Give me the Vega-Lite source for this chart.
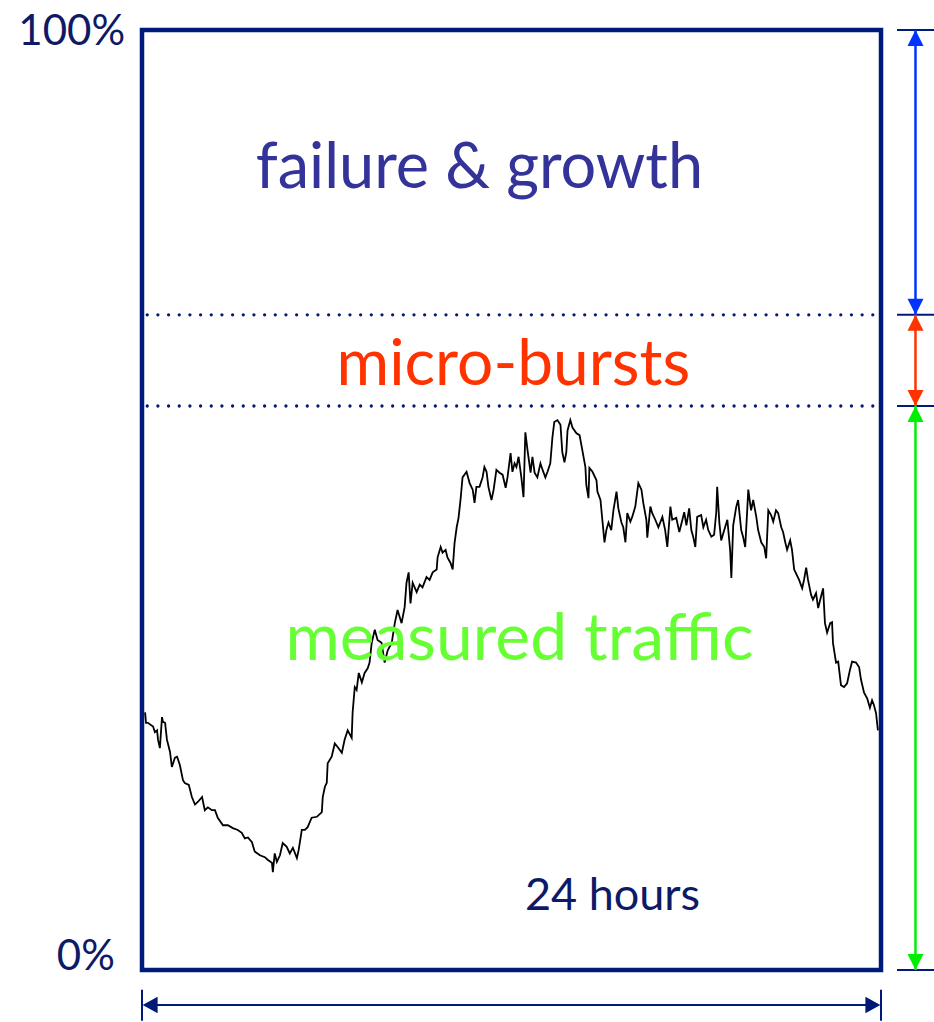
{
  "$schema": "https://vega.github.io/schema/vega-lite/v6.json",
  "width": 739,
  "height": 940,
  "autosize": "none",
  "padding": {"left": 142, "top": 30, "right": 53, "bottom": 52},
  "background": "white",
  "config": {"view": {"stroke": "#001a7a", "strokeWidth": 4.5}, "text": {"font": "Lato"}},
  "datasets": {
    "traffic": [
      {"h":0.10,"p":27.4},{"h":0.13,"p":26.3},{"h":0.19,"p":26.3},{"h":0.36,"p":25.9},{"h":0.42,"p":25.3},{"h":0.49,"p":25.5},{"h":0.52,"p":24.5},{"h":0.58,"p":23.6},{"h":0.65,"p":26.9},{"h":0.68,"p":26.4},{"h":0.75,"p":26.3},{"h":0.81,"p":24.5},{"h":0.91,"p":23.2},{"h":0.97,"p":21.6},{"h":1.07,"p":22.6},{"h":1.14,"p":22.7},{"h":1.23,"p":21.8},{"h":1.33,"p":20.2},{"h":1.39,"p":19.9},{"h":1.52,"p":19.7},{"h":1.62,"p":18.4},{"h":1.72,"p":17.6},{"h":1.82,"p":17.9},{"h":1.95,"p":18.4},{"h":2.04,"p":17.0},{"h":2.14,"p":17.3},{"h":2.27,"p":17.0},{"h":2.37,"p":17.0},{"h":2.46,"p":16.2},{"h":2.63,"p":15.4},{"h":2.79,"p":15.4},{"h":2.95,"p":15.1},{"h":3.11,"p":14.9},{"h":3.24,"p":14.6},{"h":3.34,"p":14.0},{"h":3.44,"p":14.1},{"h":3.57,"p":13.6},{"h":3.66,"p":12.6},{"h":3.83,"p":12.2},{"h":3.99,"p":12.0},{"h":4.09,"p":11.7},{"h":4.22,"p":11.4},{"h":4.25,"p":10.4},{"h":4.31,"p":12.4},{"h":4.38,"p":11.5},{"h":4.48,"p":12.2},{"h":4.57,"p":13.5},{"h":4.70,"p":13.1},{"h":4.80,"p":12.4},{"h":4.90,"p":13.0},{"h":5.03,"p":11.9},{"h":5.09,"p":12.8},{"h":5.19,"p":14.9},{"h":5.29,"p":14.9},{"h":5.38,"p":15.2},{"h":5.51,"p":16.2},{"h":5.68,"p":16.3},{"h":5.84,"p":16.8},{"h":5.87,"p":18.4},{"h":5.94,"p":19.5},{"h":6.00,"p":19.9},{"h":6.03,"p":22.0},{"h":6.16,"p":22.7},{"h":6.26,"p":24.1},{"h":6.36,"p":23.7},{"h":6.49,"p":23.1},{"h":6.58,"p":24.5},{"h":6.68,"p":25.5},{"h":6.81,"p":24.7},{"h":6.84,"p":27.4},{"h":6.91,"p":30.1},{"h":6.97,"p":29.8},{"h":7.04,"p":31.6},{"h":7.14,"p":30.6},{"h":7.23,"p":31.6},{"h":7.33,"p":32.1},{"h":7.39,"p":32.7},{"h":7.46,"p":34.8},{"h":7.56,"p":36.2},{"h":7.65,"p":35.1},{"h":7.78,"p":34.8},{"h":7.88,"p":32.7},{"h":7.98,"p":34.0},{"h":8.11,"p":34.8},{"h":8.21,"p":36.9},{"h":8.30,"p":38.3},{"h":8.43,"p":36.9},{"h":8.53,"p":38.6},{"h":8.59,"p":41.2},{"h":8.66,"p":42.3},{"h":8.72,"p":39.0},{"h":8.79,"p":41.2},{"h":8.92,"p":40.2},{"h":9.02,"p":41.0},{"h":9.11,"p":40.7},{"h":9.24,"p":41.8},{"h":9.34,"p":41.5},{"h":9.44,"p":42.3},{"h":9.57,"p":42.6},{"h":9.60,"p":43.9},{"h":9.70,"p":45.0},{"h":9.76,"p":44.4},{"h":9.86,"p":44.7},{"h":9.92,"p":43.9},{"h":10.02,"p":43.3},{"h":10.09,"p":42.6},{"h":10.15,"p":45.4},{"h":10.22,"p":47.1},{"h":10.28,"p":48.1},{"h":10.35,"p":50.2},{"h":10.41,"p":52.4},{"h":10.54,"p":53.0},{"h":10.64,"p":51.8},{"h":10.74,"p":51.1},{"h":10.80,"p":49.7},{"h":10.86,"p":51.4},{"h":10.96,"p":51.4},{"h":11.06,"p":52.4},{"h":11.12,"p":53.5},{"h":11.19,"p":53.0},{"h":11.25,"p":51.4},{"h":11.35,"p":50.0},{"h":11.42,"p":51.1},{"h":11.51,"p":53.2},{"h":11.61,"p":52.9},{"h":11.71,"p":52.7},{"h":11.81,"p":51.3},{"h":11.87,"p":52.4},{"h":11.97,"p":55.0},{"h":12.03,"p":53.0},{"h":12.10,"p":53.9},{"h":12.16,"p":53.5},{"h":12.23,"p":54.6},{"h":12.32,"p":52.4},{"h":12.39,"p":50.3},{"h":12.45,"p":57.2},{"h":12.52,"p":55.3},{"h":12.62,"p":52.9},{"h":12.68,"p":54.6},{"h":12.75,"p":52.9},{"h":12.84,"p":52.4},{"h":12.94,"p":53.9},{"h":13.01,"p":53.2},{"h":13.10,"p":52.4},{"h":13.17,"p":53.0},{"h":13.26,"p":53.9},{"h":13.33,"p":56.7},{"h":13.39,"p":58.3},{"h":13.49,"p":58.5},{"h":13.59,"p":58.0},{"h":13.65,"p":55.1},{"h":13.72,"p":54.0},{"h":13.78,"p":55.1},{"h":13.82,"p":57.4},{"h":13.91,"p":58.5},{"h":13.98,"p":57.7},{"h":14.11,"p":57.1},{"h":14.21,"p":56.9},{"h":14.30,"p":55.3},{"h":14.40,"p":53.5},{"h":14.43,"p":51.6},{"h":14.50,"p":50.2},{"h":14.53,"p":53.4},{"h":14.63,"p":53.0},{"h":14.76,"p":52.1},{"h":14.79,"p":50.9},{"h":14.89,"p":50.0},{"h":14.95,"p":47.9},{"h":15.02,"p":45.5},{"h":15.08,"p":46.8},{"h":15.15,"p":47.6},{"h":15.24,"p":46.8},{"h":15.31,"p":48.9},{"h":15.41,"p":50.9},{"h":15.47,"p":49.1},{"h":15.57,"p":47.6},{"h":15.63,"p":47.1},{"h":15.70,"p":45.5},{"h":15.76,"p":48.6},{"h":15.86,"p":47.7},{"h":15.92,"p":48.2},{"h":16.02,"p":49.3},{"h":16.12,"p":51.8},{"h":16.22,"p":51.1},{"h":16.28,"p":49.7},{"h":16.38,"p":47.9},{"h":16.41,"p":46.0},{"h":16.51,"p":49.3},{"h":16.57,"p":48.6},{"h":16.67,"p":47.9},{"h":16.77,"p":47.1},{"h":16.90,"p":48.2},{"h":16.99,"p":46.8},{"h":17.06,"p":45.0},{"h":17.16,"p":49.3},{"h":17.22,"p":47.9},{"h":17.35,"p":48.1},{"h":17.45,"p":46.6},{"h":17.55,"p":47.9},{"h":17.61,"p":48.7},{"h":17.68,"p":47.3},{"h":17.77,"p":49.1},{"h":17.84,"p":46.8},{"h":17.90,"p":46.1},{"h":17.97,"p":45.0},{"h":18.03,"p":48.2},{"h":18.16,"p":48.4},{"h":18.23,"p":47.1},{"h":18.32,"p":47.9},{"h":18.39,"p":46.8},{"h":18.49,"p":46.1},{"h":18.58,"p":46.3},{"h":18.65,"p":48.7},{"h":18.68,"p":51.4},{"h":18.75,"p":47.6},{"h":18.81,"p":45.7},{"h":18.91,"p":46.8},{"h":19.01,"p":47.9},{"h":19.10,"p":44.7},{"h":19.14,"p":41.7},{"h":19.20,"p":47.3},{"h":19.30,"p":49.3},{"h":19.36,"p":50.0},{"h":19.46,"p":46.8},{"h":19.52,"p":46.1},{"h":19.59,"p":45.0},{"h":19.65,"p":48.6},{"h":19.69,"p":51.1},{"h":19.78,"p":48.9},{"h":19.85,"p":50.0},{"h":19.95,"p":48.2},{"h":20.01,"p":46.8},{"h":20.11,"p":45.5},{"h":20.21,"p":45.0},{"h":20.27,"p":43.8},{"h":20.34,"p":48.9},{"h":20.43,"p":48.4},{"h":20.50,"p":47.7},{"h":20.59,"p":48.9},{"h":20.66,"p":48.6},{"h":20.76,"p":47.1},{"h":20.82,"p":46.6},{"h":20.89,"p":45.5},{"h":20.95,"p":44.7},{"h":21.05,"p":45.7},{"h":21.11,"p":44.7},{"h":21.18,"p":42.6},{"h":21.24,"p":42.2},{"h":21.34,"p":41.5},{"h":21.44,"p":40.6},{"h":21.50,"p":41.5},{"h":21.57,"p":42.8},{"h":21.63,"p":41.5},{"h":21.73,"p":39.9},{"h":21.79,"p":39.4},{"h":21.89,"p":40.1},{"h":21.96,"p":38.5},{"h":22.05,"p":39.7},{"h":22.12,"p":40.6},{"h":22.18,"p":36.9},{"h":22.25,"p":35.9},{"h":22.35,"p":36.9},{"h":22.41,"p":37.0},{"h":22.44,"p":34.8},{"h":22.54,"p":32.7},{"h":22.61,"p":32.8},{"h":22.70,"p":30.3},{"h":22.80,"p":30.1},{"h":22.90,"p":30.5},{"h":22.99,"p":31.9},{"h":23.06,"p":32.8},{"h":23.19,"p":32.7},{"h":23.29,"p":32.2},{"h":23.35,"p":30.9},{"h":23.45,"p":29.5},{"h":23.55,"p":28.9},{"h":23.64,"p":27.9},{"h":23.71,"p":28.7},{"h":23.77,"p":28.2},{"h":23.84,"p":27.3},{"h":23.90,"p":25.5}
    ],
    "bands": [
      {"band":"failure & growth","lo":69.7,"hi":100,"color":"#0033ff"},
      {"band":"micro-bursts","lo":60,"hi":69.7,"color":"#ff3300"},
      {"band":"measured traffic","lo":0,"hi":60,"color":"#00ee00"}
    ],
    "levels": [{"p":100},{"p":69.7},{"p":60},{"p":0}],
    "dotted": [{"p":69.7},{"p":60}],
    "ends": [{"h":0,"side":"left"},{"h":24,"side":"right"}]
  },
  "layer": [
    {
      "data": {"name": "dotted"},
      "mark": {"type": "rule", "color": "#001a7a", "strokeWidth": 3.3, "strokeDash": [0, 10.67], "strokeCap": "round"},
      "encoding": {
        "x": {"datum": 0.17, "type": "quantitative", "scale": {"domain": [0, 24], "nice": false, "zero": false}, "axis": null},
        "x2": {"datum": 23.85},
        "y": {"field": "p", "type": "quantitative", "scale": {"domain": [0, 100], "nice": false, "zero": false}, "axis": null}
      }
    },
    {
      "data": {"name": "traffic"},
      "mark": {"type": "line", "color": "black", "strokeWidth": 1.8, "interpolate": "linear"},
      "encoding": {
        "x": {"field": "h", "type": "quantitative", "scale": {"domain": [0, 24], "nice": false, "zero": false}, "axis": null},
        "y": {"field": "p", "type": "quantitative", "scale": {"domain": [0, 100], "nice": false, "zero": false}, "axis": null}
      }
    },
    {
      "data": {"name": "levels"},
      "mark": {"type": "rule", "color": "#001a7a", "strokeWidth": 2},
      "encoding": {
        "x": {"datum": 24.52, "type": "quantitative", "scale": {"domain": [0, 24], "nice": false, "zero": false}, "axis": null},
        "x2": {"datum": 25.8},
        "y": {"field": "p", "type": "quantitative", "scale": {"domain": [0, 100], "nice": false, "zero": false}, "axis": null}
      }
    },
    {
      "data": {"name": "bands"},
      "mark": {"type": "rule", "strokeWidth": 2.5},
      "encoding": {
        "x": {"datum": 25.12, "type": "quantitative", "scale": {"domain": [0, 24], "nice": false, "zero": false}, "axis": null},
        "y": {"field": "lo", "type": "quantitative", "scale": {"domain": [0, 100], "nice": false, "zero": false}, "axis": null},
        "y2": {"field": "hi"},
        "color": {"field": "color", "type": "nominal", "scale": null}
      }
    },
    {
      "data": {"name": "bands"},
      "mark": {"type": "point", "filled": true, "opacity": 1, "size": 256, "shape": "M0,-1L-1,1L1,1Z", "yOffset": 8, "strokeWidth": 0},
      "encoding": {
        "x": {"datum": 25.12, "type": "quantitative", "scale": {"domain": [0, 24], "nice": false, "zero": false}, "axis": null},
        "y": {"field": "hi", "type": "quantitative", "scale": {"domain": [0, 100], "nice": false, "zero": false}, "axis": null},
        "color": {"field": "color", "type": "nominal", "scale": null}
      }
    },
    {
      "data": {"name": "bands"},
      "mark": {"type": "point", "filled": true, "opacity": 1, "size": 256, "shape": "M0,1L-1,-1L1,-1Z", "yOffset": -8, "strokeWidth": 0},
      "encoding": {
        "x": {"datum": 25.12, "type": "quantitative", "scale": {"domain": [0, 24], "nice": false, "zero": false}, "axis": null},
        "y": {"field": "lo", "type": "quantitative", "scale": {"domain": [0, 100], "nice": false, "zero": false}, "axis": null},
        "color": {"field": "color", "type": "nominal", "scale": null}
      }
    },
    {
      "data": {"name": "ends"},
      "mark": {"type": "rule", "color": "#001a7a", "strokeWidth": 2},
      "encoding": {
        "x": {"field": "h", "type": "quantitative", "scale": {"domain": [0, 24], "nice": false, "zero": false}, "axis": null},
        "y": {"datum": -2.1, "type": "quantitative", "scale": {"domain": [0, 100], "nice": false, "zero": false}, "axis": null},
        "y2": {"datum": -5.4}
      }
    },
    {
      "data": {"values": [{}]},
      "mark": {"type": "rule", "color": "#001a7a", "strokeWidth": 2},
      "encoding": {
        "x": {"datum": 0.2, "type": "quantitative", "scale": {"domain": [0, 24], "nice": false, "zero": false}, "axis": null},
        "x2": {"datum": 23.8},
        "y": {"datum": -3.72, "type": "quantitative", "scale": {"domain": [0, 100], "nice": false, "zero": false}, "axis": null}
      }
    },
    {
      "data": {"values": [{}]},
      "mark": {"type": "point", "filled": true, "opacity": 1, "size": 225, "shape": "M-1,0L1,-1.1L1,1.1Z", "xOffset": 7.5, "strokeWidth": 0, "color": "#001a7a"},
      "encoding": {
        "x": {"datum": 0.02, "type": "quantitative", "scale": {"domain": [0, 24], "nice": false, "zero": false}, "axis": null},
        "y": {"datum": -3.72, "type": "quantitative", "scale": {"domain": [0, 100], "nice": false, "zero": false}, "axis": null}
      }
    },
    {
      "data": {"values": [{}]},
      "mark": {"type": "point", "filled": true, "opacity": 1, "size": 225, "shape": "M1,0L-1,-1.1L-1,1.1Z", "xOffset": -7.5, "strokeWidth": 0, "color": "#001a7a"},
      "encoding": {
        "x": {"datum": 23.98, "type": "quantitative", "scale": {"domain": [0, 24], "nice": false, "zero": false}, "axis": null},
        "y": {"datum": -3.72, "type": "quantitative", "scale": {"domain": [0, 100], "nice": false, "zero": false}, "axis": null}
      }
    },
    {
      "data": {"values": [
        {"label":"failure & growth","h":10.96,"p":83.2,"c":"#333399","s":63},
        {"label":"micro-bursts","h":12.06,"p":62.2,"c":"#ff3300","s":64},
        {"label":"measured traffic","h":12.26,"p":33.0,"c":"#66ff33","s":66},
        {"label":"24 hours","h":15.28,"p":6.4,"c":"#0d1a66","s":45}
      ]},
      "mark": {"type": "text", "align": "center", "baseline": "alphabetic"},
      "encoding": {
        "x": {"field": "h", "type": "quantitative", "scale": {"domain": [0, 24], "nice": false, "zero": false}, "axis": null},
        "y": {"field": "p", "type": "quantitative", "scale": {"domain": [0, 100], "nice": false, "zero": false}, "axis": null},
        "text": {"field": "label"},
        "color": {"field": "c", "type": "nominal", "scale": null},
        "size": {"field": "s", "type": "quantitative", "scale": null}
      }
    },
    {
      "data": {"values": [
        {"label":"100%","h":-0.55,"p":98.4},
        {"label":"0%","h":-0.88,"p":0}
      ]},
      "mark": {"type": "text", "align": "right", "baseline": "alphabetic", "fontSize": 42, "color": "#0d1a66"},
      "encoding": {
        "x": {"field": "h", "type": "quantitative", "scale": {"domain": [0, 24], "nice": false, "zero": false}, "axis": null},
        "y": {"field": "p", "type": "quantitative", "scale": {"domain": [0, 100], "nice": false, "zero": false}, "axis": null},
        "text": {"field": "label"}
      }
    }
  ]
}
